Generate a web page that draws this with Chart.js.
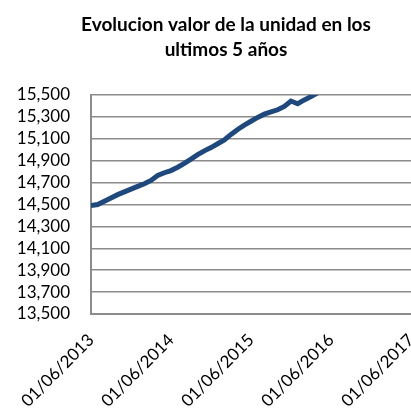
<!DOCTYPE html>
<html>
<head>
<meta charset="utf-8">
<script src="https://cdn.jsdelivr.net/npm/chart.js@4.4.1/dist/chart.umd.min.js"></script>
<style>
    html, body { margin: 0; padding: 0; background: #fff; }
    #wrap { width: 411px; height: 410px; }
</style>
</head>
<body>
<div id="wrap"><canvas id="valorChart"></canvas></div>
<script>
// months since 01/06/2013
const months = [0, 1, 2, 3, 4, 5, 6, 7, 8, 9, 10, 11, 12, 13, 14, 15, 16, 17,
    18, 19, 20, 21, 22, 23, 24, 25, 26, 27, 28, 29, 30, 31, 32, 33, 34];
const values = [14490, 14500, 14530, 14560, 14590, 14615, 14640, 14665, 14690, 14720,
    14765, 14790, 14810, 14840, 14875, 14915, 14955, 14990, 15020, 15055,
    15090, 15140, 15185, 15225, 15260, 15295, 15325, 15345, 15365, 15395,
    15445, 15420, 15455, 15485, 15520];
const tickLabels = ['01/06/2013', '01/06/2014', '01/06/2015', '01/06/2016', '01/06/2017'];
const titleLines = ['Evolucion valor de la unidad en los', 'ultimos 5 años'];

const fontFamily = 'Lato, "Open Sans", sans-serif';

// title drawn by hand so it can sit off-centre like the original
const titlePlugin = {
    id: 'titleLines',
    afterDraw(chart) {
        const ctx = chart.ctx;
        ctx.save();
        ctx.fillStyle = '#000';
        ctx.font = 'bold 19px ' + fontFamily;
        ctx.textAlign = 'center';
        ctx.textBaseline = 'alphabetic';
        ctx.fillText(titleLines[0], 226, 31);
        ctx.fillText(titleLines[1], 226, 56);
        ctx.restore();
    }
};

const ctx = document.getElementById('valorChart').getContext('2d');

new Chart(ctx, {
    type: 'line',
    data: {
        datasets: [{
            data: months.map((m, i) => ({ x: m, y: values[i] })),
            borderColor: '#1f497d',
            borderWidth: 5,
            pointRadius: 0,
            tension: 0,
            fill: false
        }]
    },
    options: {
        responsive: true,
        maintainAspectRatio: false,
        animation: false,
        layout: { padding: { top: 95, right: 0, left: 0, bottom: 0 } },
        plugins: {
            legend: { display: false },
            tooltip: { enabled: false }
        },
        scales: {
            x: {
                type: 'linear',
                min: 0,
                max: 48,
                ticks: {
                    stepSize: 12,
                    autoSkip: false,
                    minRotation: 45,
                    maxRotation: 45,
                    padding: 16,
                    color: '#000',
                    font: { family: fontFamily, size: 17 },
                    callback: function (value) {
                        return tickLabels[value / 12];
                    }
                },
                grid: { display: false, drawTicks: false },
                border: { display: true, color: '#8c8c8c', width: 2 },
                afterFit: function (scale) {
                    scale.height = 96;
                    scale.paddingLeft = 0;
                    scale.paddingRight = 0;
                }
            },
            y: {
                min: 13500,
                max: 15500,
                ticks: {
                    stepSize: 200,
                    autoSkip: false,
                    padding: 21,
                    color: '#000',
                    font: { family: fontFamily, size: 17 },
                    callback: function (value) {
                        return value.toLocaleString('en-US');
                    }
                },
                grid: { color: '#8c8c8c', lineWidth: 1.5, drawTicks: false },
                border: { display: true, color: '#8c8c8c', width: 2 },
                afterFit: function (scale) {
                    scale.width = 91;
                }
            }
        }
    },
    plugins: [titlePlugin]
});
</script>
</body>
</html>
